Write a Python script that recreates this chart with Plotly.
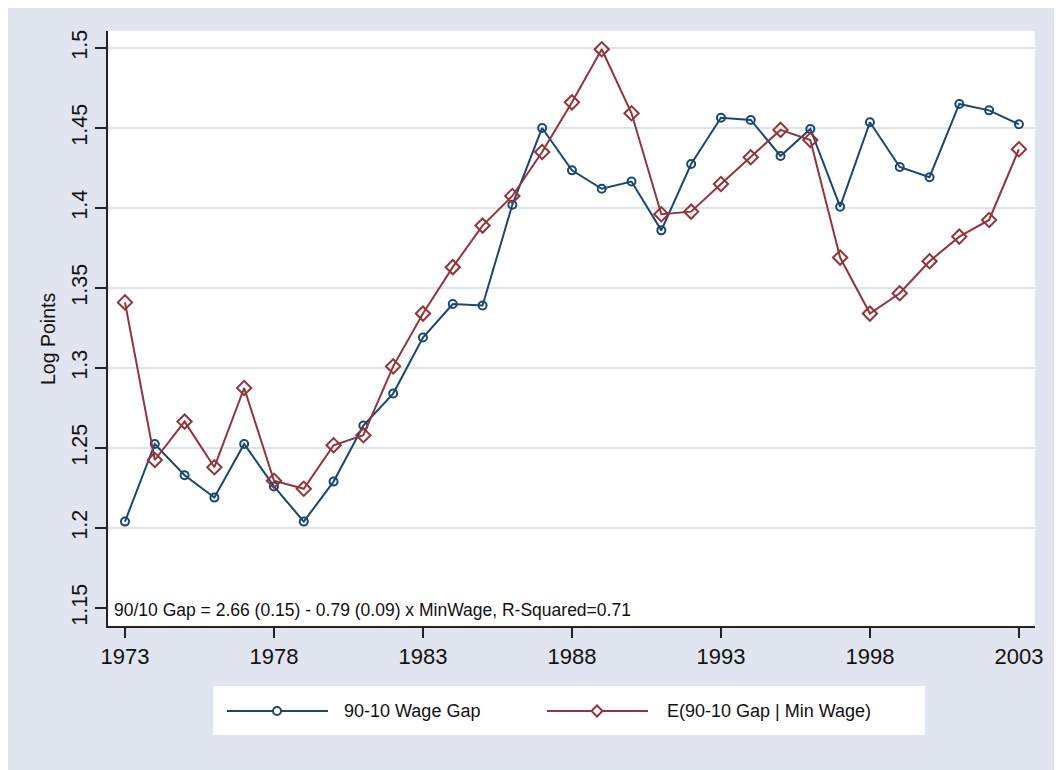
import plotly.graph_objects as go

# years and series
years = list(range(1973, 2004))
wage_gap = [1.204, 1.2525, 1.233, 1.219, 1.2525, 1.226, 1.204, 1.229, 1.264, 1.284,
            1.319, 1.340, 1.339, 1.402, 1.450, 1.4235, 1.412, 1.4165, 1.386, 1.4275,
            1.4564, 1.455, 1.4325, 1.4494, 1.4008, 1.4536, 1.4256, 1.4192, 1.465, 1.461,
            1.4523]
expected_gap = [1.341, 1.2425, 1.2665, 1.238, 1.2875, 1.2295, 1.2245, 1.2517, 1.258, 1.301,
                1.334, 1.363, 1.389, 1.4075, 1.435, 1.466, 1.4992, 1.4592, 1.3961, 1.3977,
                1.415, 1.4317, 1.4488, 1.4425, 1.369, 1.334, 1.3467, 1.3667, 1.3821, 1.3925,
                1.4367]

xticks = [1973, 1978, 1983, 1988, 1993, 1998, 2003]
yticks = [1.15, 1.2, 1.25, 1.3, 1.35, 1.4, 1.45, 1.5]
ygrid = [1.2, 1.25, 1.3, 1.35, 1.4, 1.45, 1.5]

BLUE = "#1A476F"
RED = "#90353B"
BG = "#E0E5EF"
GRID = "#DDE3ED"
FONT = "Liberation Sans Narrow, Arial Narrow, Liberation Sans, Arial, sans-serif"

# page has an 8px body margin, so figure coords = page coords - 8
OFF = 8
W, H = 1054, 762
L, R, T, B = 100, 27, 23, 144
PW, PH = W - L - R, H - T - B


def px(x):
    # page pixel -> paper x
    return (x - OFF - L) / PW


def py(y):
    # page pixel -> paper y
    return (H - B - (y - OFF)) / PH


fig = go.Figure()
fig.add_trace(go.Scatter(
    x=years, y=wage_gap, mode="lines+markers", name="90-10 Wage Gap",
    line=dict(color=BLUE, width=2),
    marker=dict(symbol="circle-open", size=8, color=BLUE, line=dict(width=2)),
))
fig.add_trace(go.Scatter(
    x=years, y=expected_gap, mode="lines+markers", name="E(90-10 Gap | Min Wage)",
    line=dict(color=RED, width=2),
    marker=dict(symbol="diamond-open", size=11, color=RED, line=dict(width=2)),
))
# invisible trace to carry the grid axis
fig.add_trace(go.Scatter(x=[years[0]], y=[ygrid[0]], yaxis="y2", mode="markers",
                         marker=dict(opacity=0), showlegend=False, hoverinfo="skip"))

yrange = [1.13875, 1.5106]

fig.update_layout(
    width=W, height=H,
    margin=dict(l=L, r=R, t=T, b=B),
    paper_bgcolor=BG, plot_bgcolor="white",
    showlegend=False,
    font=dict(family=FONT, size=21, color="#111111"),
    xaxis=dict(
        range=[1972.43, 2003.54], tickvals=xticks, ticktext=[str(v) for v in xticks],
        showgrid=False, zeroline=False, showline=True, linecolor="#222222", linewidth=1.5,
        ticks="outside", ticklen=10, tickwidth=1.5, tickcolor="#222222",
        tickfont=dict(family=FONT, size=22),
    ),
    yaxis=dict(
        range=yrange, tickvals=yticks, ticktext=[f"{v:g}" for v in yticks],
        showgrid=False, zeroline=False, showline=True, linecolor="#222222", linewidth=1.5,
        ticks="outside", ticklen=11, tickwidth=1.5, tickcolor="#222222", tickangle=-90,
        tickfont=dict(family=FONT, size=21.5),
    ),
    yaxis2=dict(
        range=yrange, overlaying="y", tickvals=ygrid, showticklabels=False,
        showgrid=True, gridcolor=GRID, gridwidth=2, zeroline=False, showline=False,
        ticks="", layer="below traces",
    ),
)

# y axis title, placed where the original puts it (a bit below centre)
fig.add_annotation(text="Log Points", xref="paper", yref="paper", x=px(48), y=py(339),
                   xanchor="center", yanchor="middle", textangle=-90, showarrow=False,
                   font=dict(family=FONT, size=19.5, color="#111111"))

fig.add_annotation(
    text="90/10 Gap = 2.66 (0.15) - 0.79 (0.09) x MinWage, R-Squared=0.71",
    xref="paper", yref="y", x=px(112), y=1.149, xanchor="left", yanchor="middle",
    showarrow=False, font=dict(family="Liberation Sans, Arial, sans-serif", size=17.5, color="#111111"),
)

# legend drawn by hand: white box, sample lines, markers and labels
shapes = [
    dict(type="rect", xref="paper", yref="paper", x0=px(213), x1=px(925), y0=py(686), y1=py(735),
         fillcolor="white", line=dict(width=0), layer="below"),
    dict(type="line", xref="paper", yref="paper", x0=px(227), x1=px(328), y0=py(711), y1=py(711),
         line=dict(color=BLUE, width=2)),
    dict(type="line", xref="paper", yref="paper", x0=px(547), x1=px(648), y0=py(711), y1=py(711),
         line=dict(color=RED, width=2)),
    dict(type="circle", xref="paper", yref="paper", xsizemode="pixel", ysizemode="pixel",
         xanchor=px(277), yanchor=py(711), x0=-4, x1=4, y0=-4, y1=4,
         fillcolor="white", line=dict(color=BLUE, width=2)),
    dict(type="path", xref="paper", yref="paper", xsizemode="pixel", ysizemode="pixel",
         xanchor=px(597), yanchor=py(711), path="M -5.5 0 L 0 5.5 L 5.5 0 L 0 -5.5 Z",
         fillcolor="white", line=dict(color=RED, width=2)),
]
fig.update_layout(shapes=shapes)

fig.add_annotation(text="90-10 Wage Gap", xref="paper", yref="paper", x=px(342), y=py(711),
                   xanchor="left", yanchor="middle", showarrow=False,
                   font=dict(family=FONT, size=18, color="#111111"))
fig.add_annotation(text="E(90-10 Gap | Min Wage)", xref="paper", yref="paper", x=px(665), y=py(711),
                   xanchor="left", yanchor="middle", showarrow=False,
                   font=dict(family=FONT, size=18, color="#111111"))

fig.write_html("out.html")
